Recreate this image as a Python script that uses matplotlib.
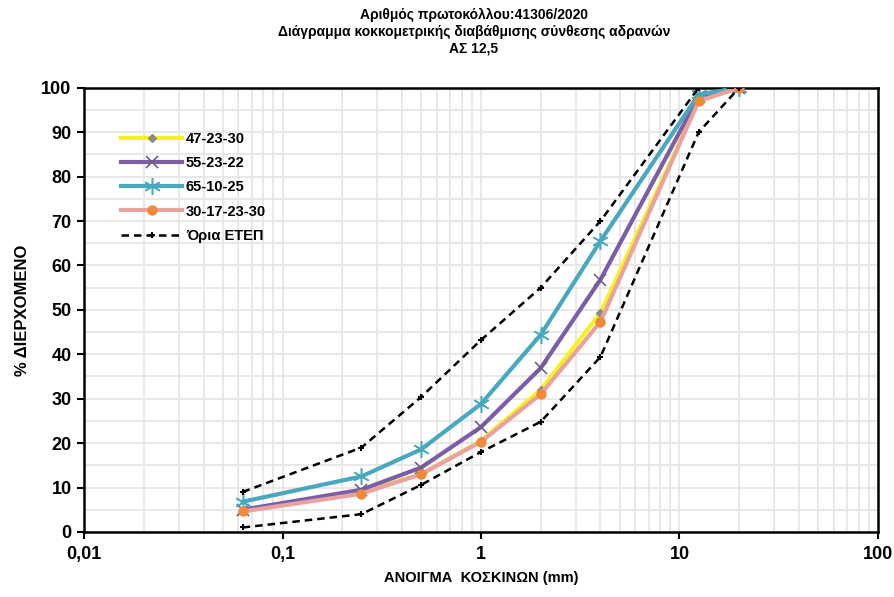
import matplotlib
matplotlib.use("Agg")
import matplotlib.pyplot as plt
from matplotlib.ticker import LogLocator, FixedLocator, FuncFormatter, NullFormatter

plt.rcParams['font.family'] = ['Liberation Sans', 'DejaVu Sans']

sieves = [0.063, 0.25, 0.5, 1, 2, 4, 12.5, 20]
s47_23_30 = [4.7, 9.0, 13.0, 20.5, 32.0, 49.3, 97.0, 100]
s55_23_22 = [5.0, 9.5, 14.5, 23.6, 36.9, 56.8, 98.0, 100]
s65_10_25 = [6.8, 12.5, 18.6, 28.8, 44.4, 65.5, 98.5, 100]
s30_17_23_30 = [4.6, 8.6, 13.0, 20.3, 31.0, 47.3, 97.0, 100]
upper = [9.0, 19.0, 30.4, 43.2, 55.0, 70.0, 100, 100]
lower = [1.0, 4.0, 10.6, 18.0, 24.8, 39.4, 90.0, 100]

labels = ['47-23-30', '55-23-22', '65-10-25', '30-17-23-30', 'Όρια ΕΤΕΠ']
title = 'Αριθμός πρωτοκόλλου:41306/2020\nΔιάγραμμα κοκκομετρικής διαβάθμισης σύνθεσης αδρανών\nΑΣ 12,5'
xlabel = 'ΑΝΟΙΓΜΑ  ΚΟΣΚΙΝΩΝ (mm)'
ylabel = '% ΔΙΕΡΧΟΜΕΝΟ'

fig = plt.figure(figsize=(8.94, 5.97), dpi=100)
ax = fig.add_axes([0.094, 0.109, 0.888, 0.744])

ax.plot(sieves, s47_23_30, color='#F7F21E', lw=3, marker='D', ms=4.5,
        mfc='#8C8C8C', mec='#8C8C8C', label=labels[0], zorder=3)
ax.plot(sieves, s55_23_22, color='#7B5FA6', lw=3, marker='x', ms=9, mew=1.2,
        mec='#6E5C8C', label=labels[1], zorder=3)
ax.plot(sieves, s65_10_25, color='#4AA8BE', lw=3, marker=(6, 2, 0), ms=12, mew=1.1,
        mec='#4AA8BE', label=labels[2], zorder=3)
ax.plot(sieves, s30_17_23_30, color='#E8A2A0', lw=3, marker='o', ms=6.5,
        mfc='#EE8A3A', mec='#EE8A3A', label=labels[3], zorder=3)
ax.plot(sieves, upper, color='black', lw=1.8, ls=(0, (3, 2)), marker='+', ms=4, mew=1.5,
        label=labels[4], zorder=4)
ax.plot(sieves, lower, color='black', lw=1.8, ls=(0, (3, 2)), marker='+', ms=4, mew=1.5,
        zorder=4)

ax.set_xscale('log')
ax.set_xlim(0.01, 100)
ax.set_ylim(0, 100)
ax.xaxis.set_major_locator(FixedLocator([0.01, 0.1, 1, 10, 100]))
ax.xaxis.set_minor_locator(LogLocator(base=10, subs=range(2, 10)))
ax.xaxis.set_major_formatter(FuncFormatter(lambda v, p: ('%g' % v).replace('.', ',')))
ax.xaxis.set_minor_formatter(NullFormatter())
ax.set_yticks(range(0, 101, 10))
ax.set_yticks(range(5, 100, 10), minor=True)

ax.grid(True, which='both', color='#E6E6E6', lw=1.3, zorder=0)
ax.set_axisbelow(True)
ax.tick_params(axis='both', which='minor', length=0)
ax.tick_params(axis='both', which='major', length=5, width=1.5, direction='out', color='black')
for lab in ax.get_xticklabels() + ax.get_yticklabels():
    lab.set_fontweight('bold')
    lab.set_fontsize(13)
ax.tick_params(axis='x', pad=5)
ax.tick_params(axis='y', pad=4)
for sp in ax.spines.values():
    sp.set_linewidth(1.8)
    sp.set_color('black')

ax.set_xlabel(xlabel, fontsize=10.5, fontweight='bold', labelpad=6)
ax.set_ylabel(ylabel, fontsize=12, fontweight='bold', labelpad=8)
fig.text(0.530, 0.986, title, ha='center', va='top', fontsize=10, fontweight='bold',
         linespacing=1.22)

leg = ax.legend(loc='upper left', bbox_to_anchor=(0.03, 0.93), frameon=False,
                prop={'weight': 'bold', 'size': 10.5}, handlelength=4.2, labelspacing=0.7,
                handletextpad=0.25)

fig.savefig('out.png', dpi=100)
